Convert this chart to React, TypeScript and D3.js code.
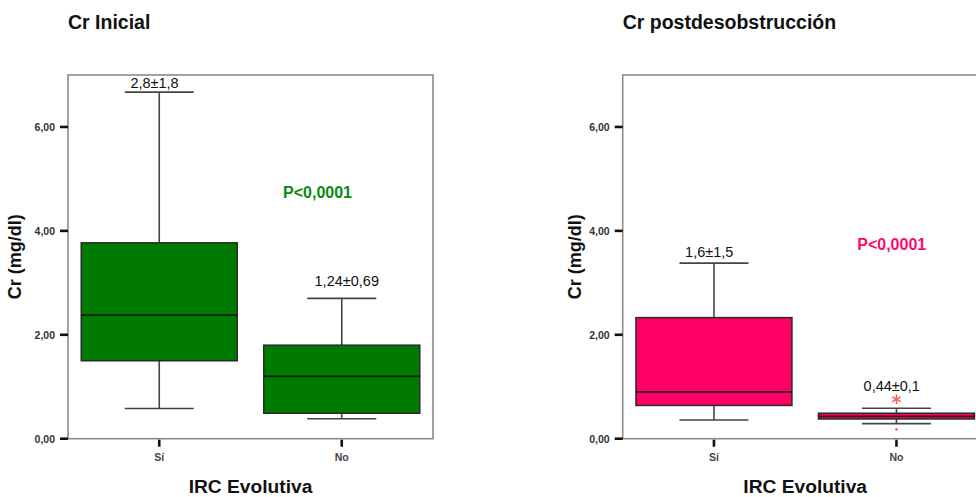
import React from "react";
import * as d3 from "d3";

// Groups on the x axis
const categories = ["Sí", "No"];

// Five-number summaries (min, q1, median, q3, max) of creatinine, mg/dl
const initialStats = [
  { min: 0.58, q1: 1.5, median: 2.38, q3: 3.77, max: 6.67 },
  { min: 0.385, q1: 0.49, median: 1.2, q3: 1.8, max: 2.7 },
];
const postStats = [
  { min: 0.36, q1: 0.64, median: 0.9, q3: 2.33, max: 3.38 },
  { min: 0.29, q1: 0.38, median: 0.43, q3: 0.49, max: 0.585 },
];

// Outliers per group (extreme = asterisk, mild = dot)
const initialOutliers: { value: number; extreme: boolean }[][] = [[], []];
const postOutliers: { value: number; extreme: boolean }[][] = [
  [],
  [
    { value: 0.76, extreme: true },
    { value: 0.18, extreme: false },
  ],
];

// Mean ± SD annotations
const initialLabels = ["2,8±1,8", "1,24±0,69"];
const postLabels = ["1,6±1,5", "0,44±0,1"];

const titles = ["Cr Inicial", "Cr postdesobstrucción"];
const pValues = ["P<0,0001", "P<0,0001"];
const yTicks = [0, 2, 4, 6];
const yTickLabels = ["0,00", "2,00", "4,00", "6,00"];
const yTitle = "Cr (mg/dl)";
const xTitle = "IRC Evolutiva";

const FONT = "'Liberation Sans', Arial, Helvetica, sans-serif";

type Stat = { min: number; q1: number; median: number; q3: number; max: number };

const panels = [
  {
    title: titles[0],
    stats: initialStats,
    outliers: initialOutliers,
    labels: initialLabels,
    p: pValues[0],
    fill: "#007a00",
    pColor: "#0a8a0a",
    left: 68,
    yTitleX: 15,
    labelGap: [4.5, 12],
    labelDx: [-4.7, 5],
    pX: 249.5,
    pY: 197.5,
  },
  {
    title: titles[1],
    stats: postStats,
    outliers: postOutliers,
    labels: postLabels,
    p: pValues[1],
    fill: "#ff0066",
    pColor: "#ff0a6a",
    left: 622.7,
    yTitleX: 575,
    labelGap: [6.5, 8.5],
    labelDx: [-4.7, -4.7],
    pX: 269,
    pY: 250,
  },
];

const TOP = 75;
const BOTTOM = 438.7;
const PLOT_W = 365;
const BOX_W = 156;
const CAP_W = 69;

// Six-armed asterisk used for extreme values
function Asterisk({ x, y, r, color }: { x: number; y: number; r: number; color: string }) {
  const angles = [90, 30, -30];
  return (
    <g stroke={color} strokeWidth={1.5} strokeLinecap="round">
      {angles.map((a) => {
        const rad = (a * Math.PI) / 180;
        const dx = Math.cos(rad) * r;
        const dy = Math.sin(rad) * r;
        return <line key={a} x1={x - dx} y1={y - dy} x2={x + dx} y2={y + dy} />;
      })}
    </g>
  );
}

function Panel({ cfg }: { cfg: (typeof panels)[number] }) {
  const y = d3.scaleLinear().domain([0, 7]).range([BOTTOM, TOP]);
  const x = d3
    .scaleBand<string>()
    .domain(categories)
    .range([cfg.left, cfg.left + PLOT_W])
    .padding(0);
  const cx = (c: string) => (x(c) as number) + x.bandwidth() / 2;

  return (
    <g>
      <text
        x={cfg.left}
        y={29}
        fontFamily={FONT}
        fontWeight="bold"
        fontSize={19.5}
        fill="#111"
      >
        {cfg.title}
      </text>

      {/* frame */}
      <rect
        x={cfg.left}
        y={TOP}
        width={PLOT_W}
        height={BOTTOM - TOP}
        fill="none"
        stroke="#8a8a8a"
        strokeWidth={1.6}
      />

      {/* y axis ticks */}
      {yTicks.map((t, i) => (
        <g key={t}>
          <line
            x1={cfg.left - 8}
            x2={cfg.left}
            y1={y(t)}
            y2={y(t)}
            stroke="#111"
            strokeWidth={2.6}
          />
          <text
            x={cfg.left - 13}
            y={y(t) + 3.8}
            textAnchor="end"
            fontFamily={FONT}
            fontSize={10.5}
            fontWeight="bold"
            fill="#333"
          >
            {yTickLabels[i]}
          </text>
        </g>
      ))}

      {/* x axis ticks */}
      {categories.map((c) => (
        <g key={c}>
          <line
            x1={cx(c)}
            x2={cx(c)}
            y1={BOTTOM + 1}
            y2={BOTTOM + 8}
            stroke="#111"
            strokeWidth={2.6}
          />
          <text
            x={cx(c)}
            y={460.5}
            textAnchor="middle"
            fontFamily={FONT}
            fontSize={10.5}
            fontWeight="bold"
            fill="#444"
          >
            {c}
          </text>
        </g>
      ))}

      <text
        x={cfg.yTitleX}
        y={(TOP + BOTTOM) / 2}
        transform={`rotate(-90 ${cfg.yTitleX} ${(TOP + BOTTOM) / 2})`}
        textAnchor="middle"
        dominantBaseline="central"
        fontFamily={FONT}
        fontWeight="bold"
        fontSize={18}
        fill="#111"
      >
        {yTitle}
      </text>
      <text
        x={cfg.left + PLOT_W / 2}
        y={493}
        textAnchor="middle"
        fontFamily={FONT}
        fontWeight="bold"
        fontSize={19.2}
        fill="#111"
      >
        {xTitle}
      </text>

      {/* boxes */}
      {categories.map((c, i) => {
        const s: Stat = cfg.stats[i];
        const m = cx(c);
        const outs = cfg.outliers[i];
        const topVal = Math.max(s.max, ...outs.map((o) => o.value));
        return (
          <g key={c}>
            <line x1={m} x2={m} y1={y(s.max)} y2={y(s.q3)} stroke="#444" strokeWidth={1.6} />
            <line x1={m} x2={m} y1={y(s.q1)} y2={y(s.min)} stroke="#444" strokeWidth={1.6} />
            <line
              x1={m - CAP_W / 2}
              x2={m + CAP_W / 2}
              y1={y(s.max)}
              y2={y(s.max)}
              stroke="#444"
              strokeWidth={1.6}
            />
            <line
              x1={m - CAP_W / 2}
              x2={m + CAP_W / 2}
              y1={y(s.min)}
              y2={y(s.min)}
              stroke="#444"
              strokeWidth={1.6}
            />
            <rect
              x={m - BOX_W / 2}
              y={y(s.q3)}
              width={BOX_W}
              height={y(s.q1) - y(s.q3)}
              fill={cfg.fill}
              stroke="#2a2a2a"
              strokeWidth={1.5}
            />
            <line
              x1={m - BOX_W / 2}
              x2={m + BOX_W / 2}
              y1={y(s.median)}
              y2={y(s.median)}
              stroke="#111"
              strokeWidth={1.8}
              opacity={0.85}
            />
            {outs.map((o, k) =>
              o.extreme ? (
                <Asterisk key={k} x={m} y={y(o.value)} r={4.3} color="#ff5a5a" />
              ) : (
                <circle key={k} cx={m} cy={y(o.value)} r={1.2} fill="#ff3a3a" />
              )
            )}
            <text
              x={m + cfg.labelDx[i]}
              y={y(topVal) - cfg.labelGap[i]}
              textAnchor="middle"
              fontFamily={FONT}
              fontSize={14.5}
              fill="#111"
            >
              {cfg.labels[i]}
            </text>
          </g>
        );
      })}

      <text
        x={cfg.left + cfg.pX}
        y={cfg.pY}
        textAnchor="middle"
        fontFamily={FONT}
        fontWeight="bold"
        fontSize={16}
        fill={cfg.pColor}
      >
        {cfg.p}
      </text>
    </g>
  );
}

export default function App() {
  return (
    <svg
      width={976}
      height={497}
      style={{ position: "absolute", left: 0, top: 0, background: "#fff" }}
    >
      <rect width={976} height={497} fill="#fff" />
      {panels.map((p) => (
        <Panel key={p.title} cfg={p} />
      ))}
    </svg>
  );
}
